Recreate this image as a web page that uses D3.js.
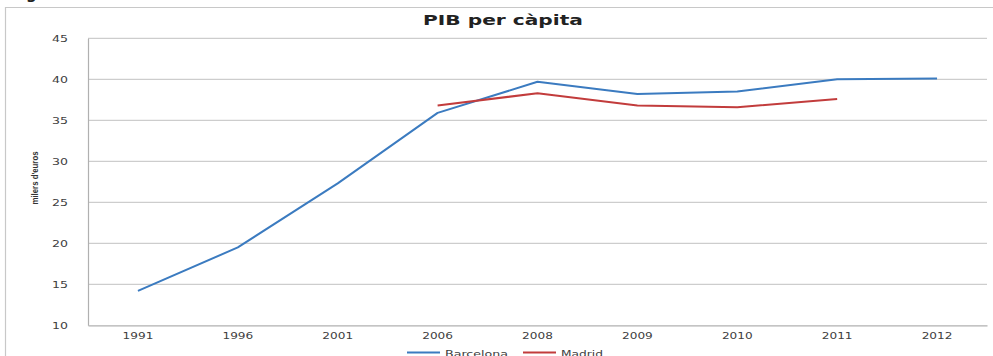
<!DOCTYPE html>
<html>
<head>
<meta charset="utf-8">
<script src="https://cdn.jsdelivr.net/npm/d3@7"></script>
<style>
  html, body { margin: 0; padding: 0; background: #fff; }
  svg { display: block; }
</style>
</head>
<body>
<svg id="chart" width="993" height="356"></svg>
<script>
// GDP per capita, thousands of euros
const years = ["1991", "1996", "2001", "2006", "2008", "2009", "2010", "2011", "2012"];
const barcelona = [14.2, 19.5, 27.3, 35.9, 39.7, 38.2, 38.5, 40.0, 40.1];
const madrid = [null, null, null, 36.8, 38.3, 36.8, 36.6, 37.6, null];
const yTicks = [10, 15, 20, 25, 30, 35, 40, 45];
const seriesNames = ["Barcelona", "Madrid"];
const seriesColors = ["#3b7bc0", "#c23c3c"];

const svg = d3.select("#chart");
const W = 993, H = 356;
const plot = { left: 88, right: 987, top: 38.3, bottom: 325.3 };

// wide, flat lettering used for all small labels
const wideText = (sel, perChar) => sel
  .attr("font-family", "DejaVu Sans").attr("font-size", 8.5)
  .attr("fill", "#404040")
  .attr("lengthAdjust", "spacingAndGlyphs")
  .attr("textLength", function () { return this.textContent.length * perChar; });

// frame of the chart object (partially outside the page)
svg.append("path")
  .attr("d", `M5.5,${H} V7.5 H${W}`)
  .attr("fill", "none").attr("stroke", "#c8c8c8").attr("stroke-width", 1.2);

// heading above the chart, mostly cut off by the page edge
svg.append("text")
  .attr("x", 26).attr("y", -1)
  .attr("font-family", "DejaVu Sans").attr("font-weight", "bold")
  .attr("font-size", 15).attr("letter-spacing", 6).attr("fill", "#222")
  .text("gràfic 3.8");

const x = d3.scaleBand().domain(years).range([plot.left, plot.right]);
const y = d3.scaleLinear().domain([10, 45]).range([plot.bottom, plot.top]);

// horizontal gridlines
svg.append("g").selectAll("line").data(yTicks.slice(1)).join("line")
  .attr("x1", plot.left).attr("x2", plot.right)
  .attr("y1", d => y(d)).attr("y2", d => y(d))
  .attr("stroke", "#cdcdcd").attr("stroke-width", 1.3);

// y axis
const yAxis = svg.append("g")
  .attr("transform", `translate(${plot.left},0)`)
  .call(d3.axisLeft(y).tickValues(yTicks).tickSize(0).tickPadding(20));
yAxis.select(".domain").attr("stroke", "#b0b0b0").attr("stroke-width", 1.2);
yAxis.selectAll("text").call(wideText, 8);

// x axis
const xAxis = svg.append("g")
  .attr("transform", `translate(0,${plot.bottom})`)
  .call(d3.axisBottom(x).tickSize(0).tickPadding(8));
xAxis.select(".domain").attr("stroke", "#b0b0b0").attr("stroke-width", 1.2);
xAxis.selectAll("text").call(wideText, 7.7);

// y axis title
svg.append("text")
  .attr("transform", "translate(38,178) rotate(-90)")
  .attr("text-anchor", "middle")
  .attr("font-family", "Liberation Sans").attr("font-weight", "bold")
  .attr("font-size", 9).attr("textLength", 53).attr("lengthAdjust", "spacingAndGlyphs")
  .attr("fill", "#333")
  .text("milers d'euros");

// title
svg.append("text")
  .attr("x", 503).attr("y", 25).attr("text-anchor", "middle")
  .attr("font-family", "DejaVu Sans").attr("font-weight", "bold")
  .attr("font-size", 13.5).attr("textLength", 160).attr("lengthAdjust", "spacingAndGlyphs")
  .attr("fill", "#222")
  .text("PIB per càpita");

// series lines
const line = d3.line()
  .defined(d => d.v != null)
  .x(d => x(d.year) + x.bandwidth() / 2)
  .y(d => y(d.v));

[barcelona, madrid].forEach((vals, i) => {
  svg.append("path")
    .datum(years.map((yr, j) => ({ year: yr, v: vals[j] })))
    .attr("fill", "none")
    .attr("stroke", seriesColors[i])
    .attr("stroke-width", 2)
    .attr("stroke-linejoin", "round")
    .attr("d", line);
});

// legend
const legendX = [407, 523];
const leg = svg.append("g");
seriesNames.forEach((name, i) => {
  leg.append("line")
    .attr("x1", legendX[i]).attr("x2", legendX[i] + 33)
    .attr("y1", 352.5).attr("y2", 352.5)
    .attr("stroke", seriesColors[i]).attr("stroke-width", 2);
  leg.append("text")
    .attr("x", legendX[i] + 38).attr("y", 357)
    .text(name)
    .call(wideText, 7);
});
</script>
</body>
</html>
